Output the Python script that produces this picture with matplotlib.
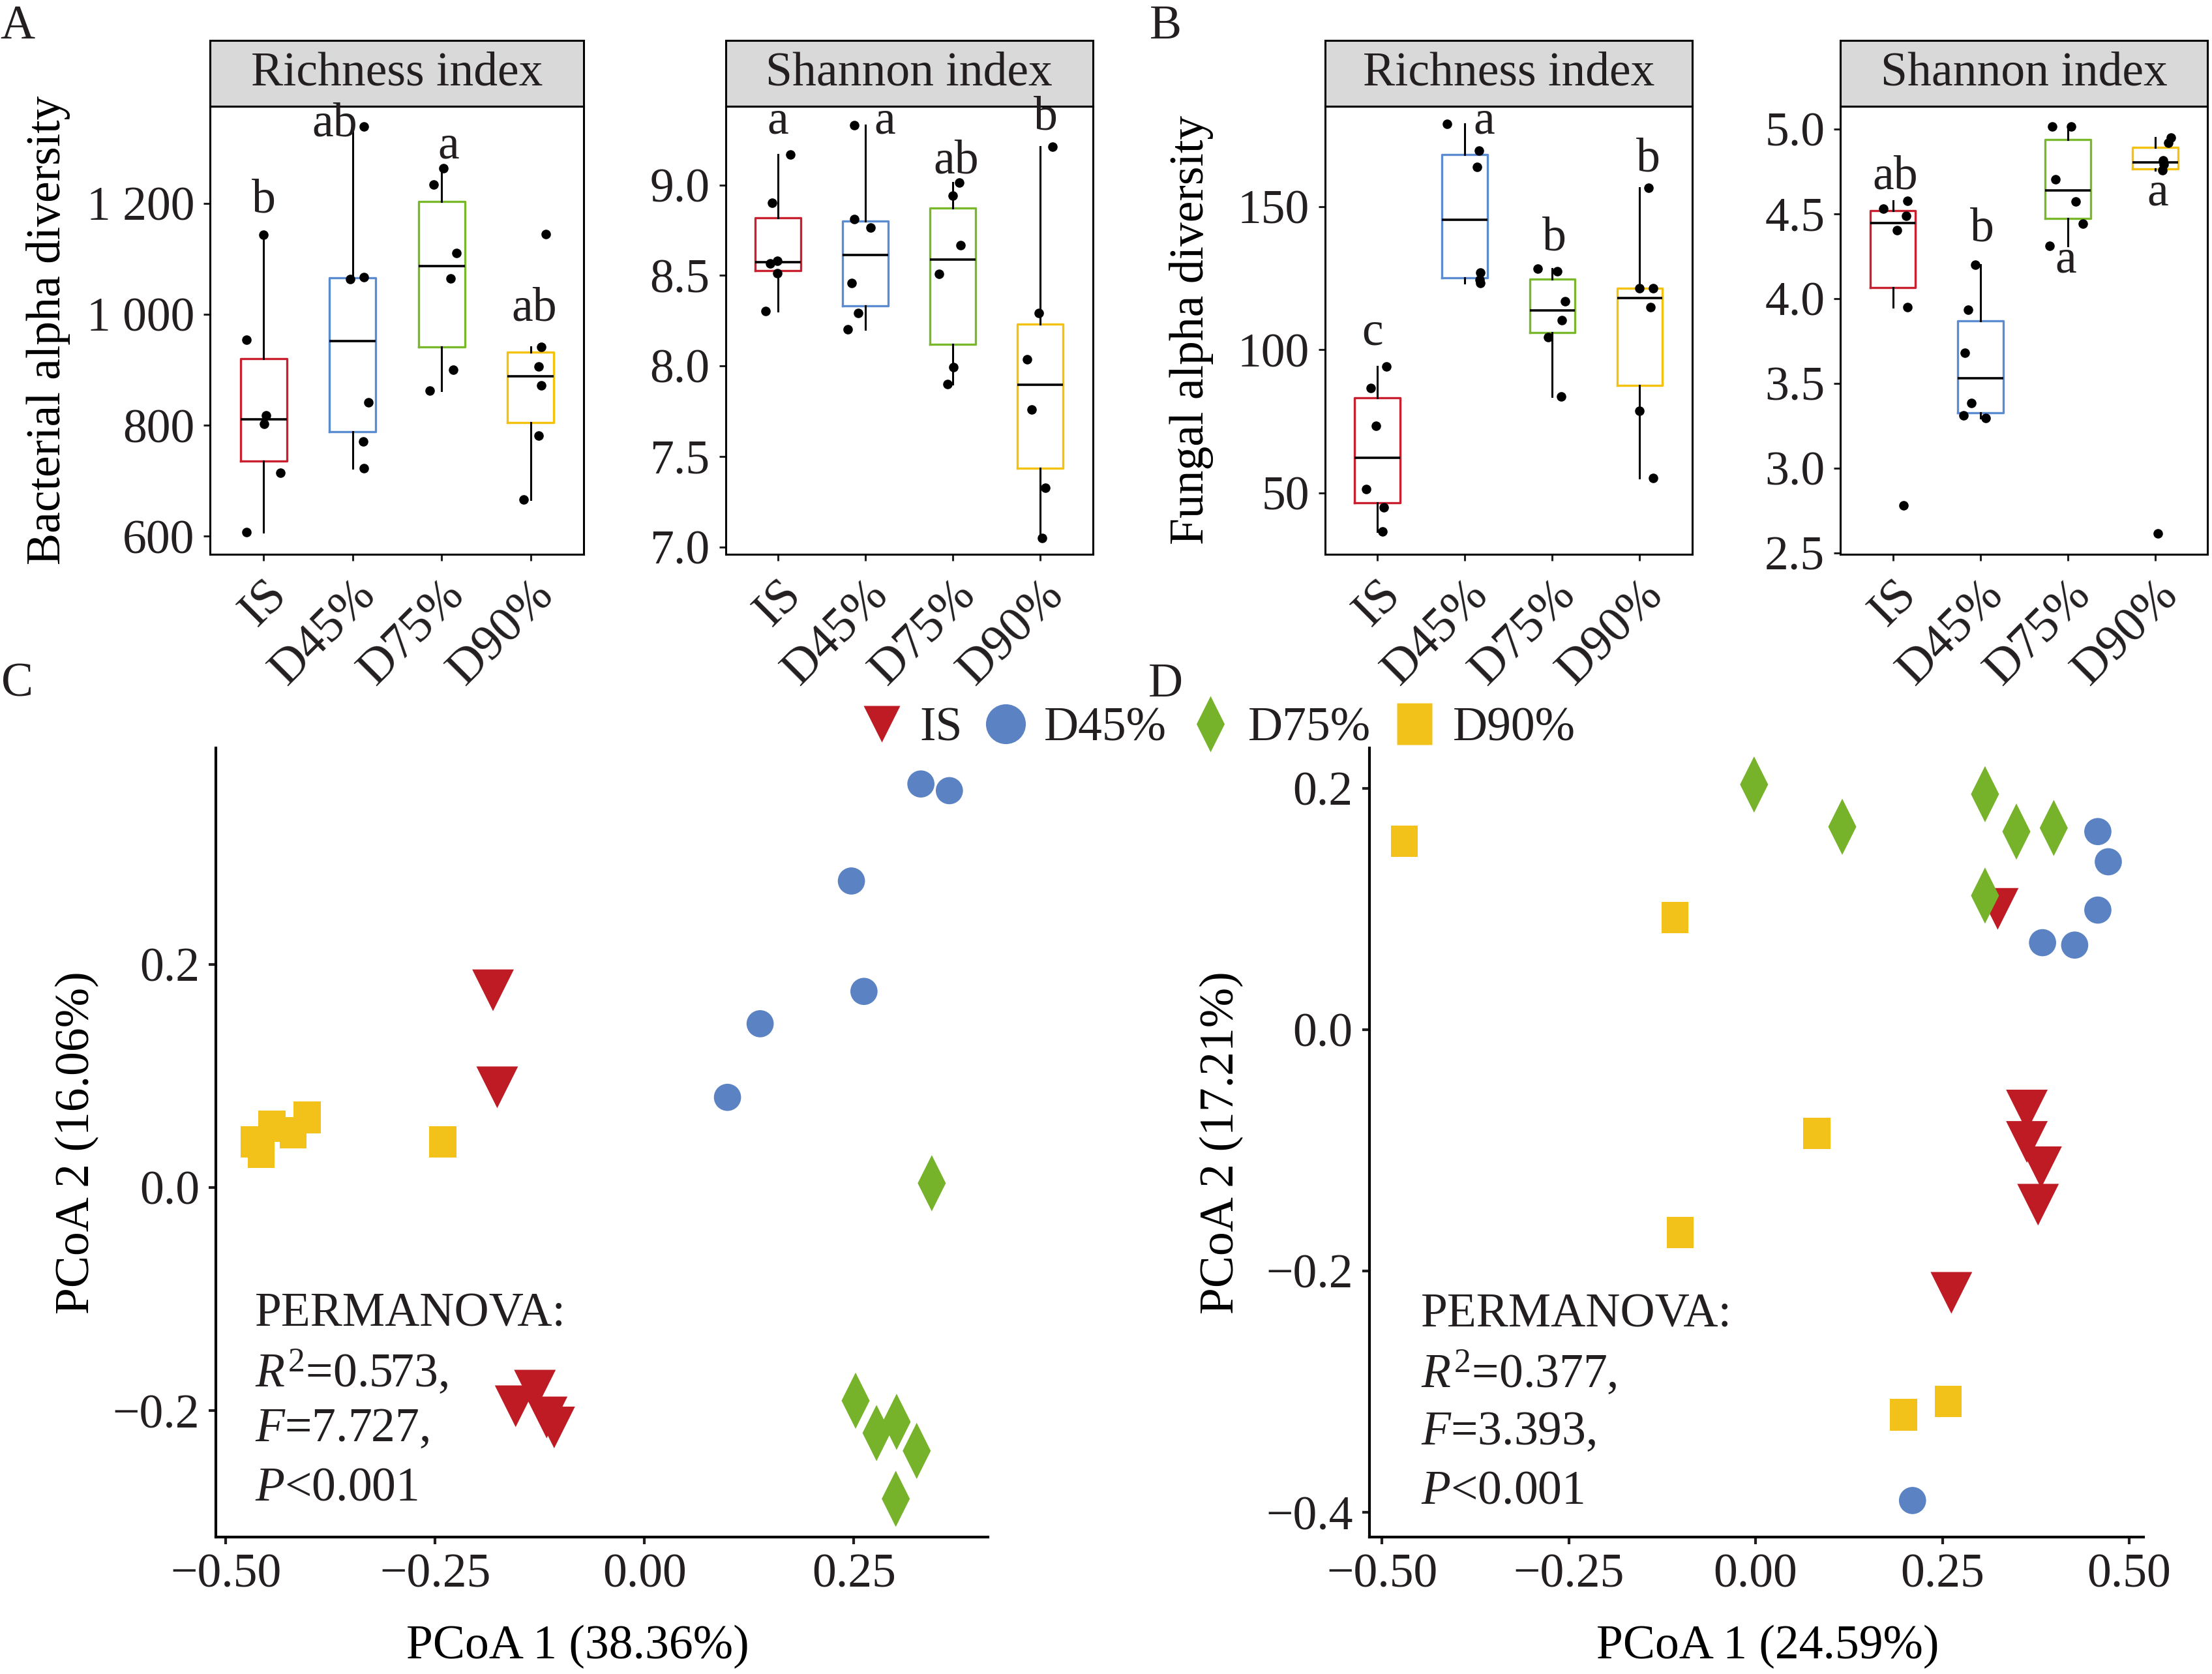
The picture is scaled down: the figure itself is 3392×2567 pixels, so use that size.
import numpy as np
import matplotlib
matplotlib.use('Agg')
import matplotlib.pyplot as plt
from matplotlib.lines import Line2D
from matplotlib.patches import Rectangle
from matplotlib.ticker import FuncFormatter

groups = ['IS', 'D45%', 'D75%', 'D90%']

# bacterial richness, one list per group, with the jitter seen in the figure
bac_rich = [[1144, 954, 818, 803, 714, 607],
            [1339, 1063, 1067, 842, 771, 723],
            [1263, 1234, 1110, 1065, 900, 863],
            [1145, 941, 906, 872, 782, 666]]
bac_rich_jit = [[0.0, -0.19, 0.03, 0.01, 0.19, -0.19],
                [0.13, -0.03, 0.13, 0.18, 0.12, 0.13],
                [0.02, -0.09, 0.17, 0.10, 0.13, -0.13],
                [0.17, 0.12, 0.09, 0.12, 0.09, -0.08]]
bac_rich_let = ['b', 'ab', 'a', 'ab']
bac_rich_let_y = [1205, 1342, 1303, 1010]
bac_rich_let_dx = [0.0, -0.2, 0.08, 0.04]

bac_shan = [[9.17, 8.90, 8.568, 8.579, 8.513, 8.305],
            [9.33, 8.81, 8.766, 8.458, 8.292, 8.203],
            [9.013, 8.942, 8.668, 8.508, 7.992, 7.898],
            [9.21, 8.294, 8.036, 7.759, 7.326, 7.05]]
bac_shan_jit = [[0.14, -0.07, -0.09, -0.01, -0.01, -0.14],
                [-0.13, -0.13, 0.06, -0.16, -0.08, -0.2],
                [0.07, 0.0, 0.09, -0.16, 0.01, -0.06],
                [0.14, -0.02, -0.15, -0.1, 0.06, 0.02]]
bac_shan_let = ['a', 'a', 'ab', 'b']
bac_shan_let_y = [9.35, 9.35, 9.13, 9.37]
bac_shan_let_dx = [0.0, 0.22, 0.04, 0.06]

fun_rich = [[94.1, 86.6, 73.4, 51.3, 45.1, 36.5],
            [178.9, 169.5, 163.75, 127, 124.5, 123.3],
            [128.4, 127.3, 117, 110.3, 104.5, 83.7],
            [156.6, 121.4, 121.4, 114.8, 78.6, 55.2]]
fun_rich_jit = [[0.1, -0.08, -0.02, -0.13, 0.07, 0.06],
                [-0.2, 0.16, 0.14, 0.18, 0.17, 0.18],
                [-0.17, 0.06, 0.15, 0.11, -0.05, 0.1],
                [0.1, 0.0, 0.15, 0.12, 0.0, 0.15]]
fun_rich_let = ['c', 'a', 'b', 'b']
fun_rich_let_y = [105.8, 179.7, 138.9, 166.4]
fun_rich_let_dx = [-0.06, 0.22, 0.02, 0.1]

fun_shan = [[4.575, 4.53, 4.49, 4.404, 3.95, 2.78],
            [4.2, 3.934, 3.68, 3.385, 3.31, 3.296],
            [5.014, 5.014, 4.704, 4.571, 4.442, 4.31],
            [4.948, 4.917, 4.815, 4.79, 4.756, 2.614]]
fun_shan_jit = [[0.17, -0.11, 0.15, 0.05, 0.17, 0.12],
                [-0.06, -0.14, -0.18, -0.1, -0.19, 0.06],
                [-0.18, 0.04, -0.14, 0.09, 0.17, -0.21],
                [0.18, 0.15, 0.09, 0.1, 0.08, 0.03]]
fun_shan_let = ['ab', 'b', 'a', 'a']
fun_shan_let_y = [4.716, 4.407, 4.223, 4.62]
fun_shan_let_dx = [0.03, 0.02, -0.02, 0.03]

# PCoA scores, bacteria (C)
bac_pc1 = [[-0.181, -0.176, -0.154, -0.131, -0.117, -0.108],
           [0.330, 0.364, 0.247, 0.262, 0.138, 0.099],
           [0.343, 0.252, 0.277, 0.301, 0.325, 0.300],
           [-0.466, -0.458, -0.445, -0.420, -0.403, -0.241]]
bac_pc2 = [[0.177, 0.090, -0.196, -0.182, -0.206, -0.215],
           [0.362, 0.356, 0.275, 0.176, 0.147, 0.081],
           [0.004, -0.191, -0.220, -0.210, -0.236, -0.279],
           [0.041, 0.032, 0.055, 0.049, 0.063, 0.041]]
# PCoA scores, fungi (D)
fun_pc1 = [[0.324, 0.363, 0.363, 0.382, 0.378, 0.262],
           [0.458, 0.472, 0.458, 0.384, 0.427, 0.210],
           [-0.002, 0.116, 0.307, 0.349, 0.399, 0.307],
           [-0.470, -0.108, 0.082, -0.101, 0.198, 0.258]]
fun_pc2 = [[0.100, -0.067, -0.093, -0.114, -0.145, -0.218],
           [0.164, 0.139, 0.099, 0.072, 0.070, -0.390],
           [0.203, 0.168, 0.195, 0.164, 0.167, 0.111],
           [0.156, 0.093, -0.086, -0.168, -0.319, -0.308]]

bac_stats = ['PERMANOVA:', r'$R^{2}$=0.573,', r'$F$=7.727,', r'$P$<0.001']
fun_stats = ['PERMANOVA:', r'$R^{2}$=0.377,', r'$F$=3.393,', r'$P$<0.001']

pt_colors = ['#BE1B24', '#5B83C4', '#77B22B', '#F2C21B']
box_colors = ['#C8202F', '#5B8BD0', '#78B82A', '#F4C20D']

plt.rcParams['font.family'] = ['Liberation Serif', 'DejaVu Serif']
plt.rcParams['mathtext.fontset'] = 'custom'
plt.rcParams['mathtext.rm'] = 'Liberation Serif'
plt.rcParams['mathtext.it'] = 'Liberation Serif:italic'
plt.rcParams['font.size'] = 26.5
plt.rcParams['text.color'] = '#231F20'
plt.rcParams['xtick.color'] = '#231F20'
plt.rcParams['ytick.color'] = '#231F20'

diamond = [(0, 1), (0.5, 0), (0, -1), (-0.5, 0), (0, 1)]
rect = [(-0.43, -0.5), (0.43, -0.5), (0.43, 0.5), (-0.43, 0.5), (-0.43, -0.5)]
markers = ['v', 'o', diamond, rect]
msizes = [23, 15, 31, 17.3]

fig = plt.figure(figsize=(16.96, 12.835), dpi=200)


def minus(fmt):
    return FuncFormatter(lambda v, p: (fmt % v).replace('-', '\u2212'))


def box_panel(rect_pos, vals, jit, lets, let_y, let_dx, ylim, yticks, ylabels, title):
    ax = fig.add_axes(rect_pos)
    pos = np.arange(1, 5)
    bp = ax.boxplot(vals, positions=pos, widths=0.52, whis=1.5, showfliers=False,
                    showcaps=False, medianprops=dict(color='black', lw=1.3),
                    whiskerprops=dict(color='black', lw=1.1))
    for b, c in zip(bp['boxes'], box_colors):
        b.set_color(c)
        b.set_linewidth(1.2)
    for i in range(4):
        ax.scatter(pos[i] + np.array(jit[i]), vals[i], s=18, color='black', zorder=3)
        ax.text(pos[i] + let_dx[i], let_y[i], lets[i], ha='center', va='center')
    ax.set_xlim(0.4, 4.6)
    ax.set_ylim(*ylim)
    ax.set_yticks(yticks)
    ax.set_yticklabels(ylabels)
    ax.set_xticks(pos)
    ax.set_xticklabels(groups, rotation=45, ha='right', va='top', rotation_mode='anchor',
                       fontsize=27.5)
    ax.tick_params(axis='both', length=3.6, width=1.1, direction='out')
    ax.tick_params(axis='y', pad=5)
    ax.tick_params(axis='x', pad=6)
    for s in ax.spines.values():
        s.set_linewidth(1.1)
    ax.add_patch(Rectangle((0, 1), 1, 0.147, transform=ax.transAxes, clip_on=False,
                           facecolor='#D9D9D9', edgecolor='black', lw=1.1))
    ax.text(0.5, 1.0735, title, transform=ax.transAxes, ha='center', va='center')
    return ax


top, bot = 0.9365, 0.669
axA1 = box_panel([0.095, bot, 0.169, top - bot], bac_rich, bac_rich_jit, bac_rich_let,
                 bac_rich_let_y, bac_rich_let_dx, (568, 1375), [600, 800, 1000, 1200],
                 ['600', '800', '1 000', '1 200'], 'Richness index')
axA1.set_ylabel('Bacterial alpha diversity')
axA1.yaxis.set_label_coords(-0.373, 0.5)
box_panel([0.328, bot, 0.166, top - bot], bac_shan, bac_shan_jit, bac_shan_let,
          bac_shan_let_y, bac_shan_let_dx, (6.96, 9.435), [7.0, 7.5, 8.0, 8.5, 9.0],
          ['7.0', '7.5', '8.0', '8.5', '9.0'], 'Shannon index')
axB1 = box_panel([0.599, bot, 0.166, top - bot], fun_rich, fun_rich_jit, fun_rich_let,
                 fun_rich_let_y, fun_rich_let_dx, (28.7, 185), [50, 100, 150],
                 ['50', '100', '150'], 'Richness index')
axB1.set_ylabel('Fungal alpha diversity')
axB1.yaxis.set_label_coords(-0.303, 0.5)
box_panel([0.832, bot, 0.166, top - bot], fun_shan, fun_shan_jit, fun_shan_let,
          fun_shan_let_y, fun_shan_let_dx, (2.494, 5.134), [2.5, 3.0, 3.5, 4.0, 4.5, 5.0],
          ['2.5', '3.0', '3.5', '4.0', '4.5', '5.0'], 'Shannon index')


def pcoa_panel(rect_pos, px, py, xlim, ylim, xticks, yticks, xlab, ylab, stats, sx, sy,
               xlab_x, ylab_x):
    ax = fig.add_axes(rect_pos)
    for i in range(4):
        ax.scatter(px[i], py[i], marker=markers[i], s=msizes[i] ** 2,
                   color=pt_colors[i], edgecolors='none', zorder=3)
    ax.set_xlim(*xlim)
    ax.set_ylim(*ylim)
    ax.set_xticks(xticks)
    ax.set_yticks(yticks)
    ax.xaxis.set_major_formatter(minus('%.2f'))
    ax.yaxis.set_major_formatter(minus('%.1f'))
    ax.spines['top'].set_visible(False)
    ax.spines['right'].set_visible(False)
    for s in ['left', 'bottom']:
        ax.spines[s].set_linewidth(1.5)
    ax.tick_params(axis='both', length=4, width=1.5, direction='out', pad=5)
    ax.set_xlabel(xlab)
    ax.set_ylabel(ylab)
    ax.xaxis.set_label_coords(xlab_x, -0.112)
    ax.yaxis.set_label_coords(ylab_x, 0.5)
    for t, y in zip(stats, sy):
        ax.text(sx, y, t, ha='left', va='center')
    return ax


lb, lt = 0.082, 0.553
pcoa_panel([0.0976, lb, 0.349, lt - lb], bac_pc1, bac_pc2, (-0.512, 0.41), (-0.313, 0.394),
           [-0.5, -0.25, 0.0, 0.25], [-0.2, 0.0, 0.2], 'PCoA 1 (38.36%)', 'PCoA 2 (16.06%)',
           bac_stats, -0.465, [-0.114, -0.166, -0.217, -0.270], 0.469, -0.151)
pcoa_panel([0.619, lb, 0.350, lt - lb], fun_pc1, fun_pc2, (-0.517, 0.519), (-0.42, 0.233),
           [-0.5, -0.25, 0.0, 0.25, 0.5], [-0.4, -0.2, 0.0, 0.2], 'PCoA 1 (24.59%)',
           'PCoA 2 (17.21%)', fun_stats, -0.448, [-0.2366, -0.285, -0.334, -0.383],
           0.515, -0.162)

leg_sizes = [20, 22, 31, 23]
handles = [Line2D([], [], ls='none', marker=markers[i], markersize=leg_sizes[i],
                  color=pt_colors[i], markeredgecolor='none') for i in range(4)]
fig.legend(handles, groups, loc='center', bbox_to_anchor=(0.551, 0.5645), ncol=4,
           frameon=False, handlelength=0.8, handletextpad=0.4, columnspacing=0.5,
           borderpad=0, borderaxespad=0)

for lab, x, y in [('A', 0.0078, 0.984), ('B', 0.527, 0.984), ('C', 0.0078, 0.591),
                  ('D', 0.527, 0.591)]:
    fig.text(x, y, lab, ha='center', va='center')

fig.savefig('out.png', dpi=200)
